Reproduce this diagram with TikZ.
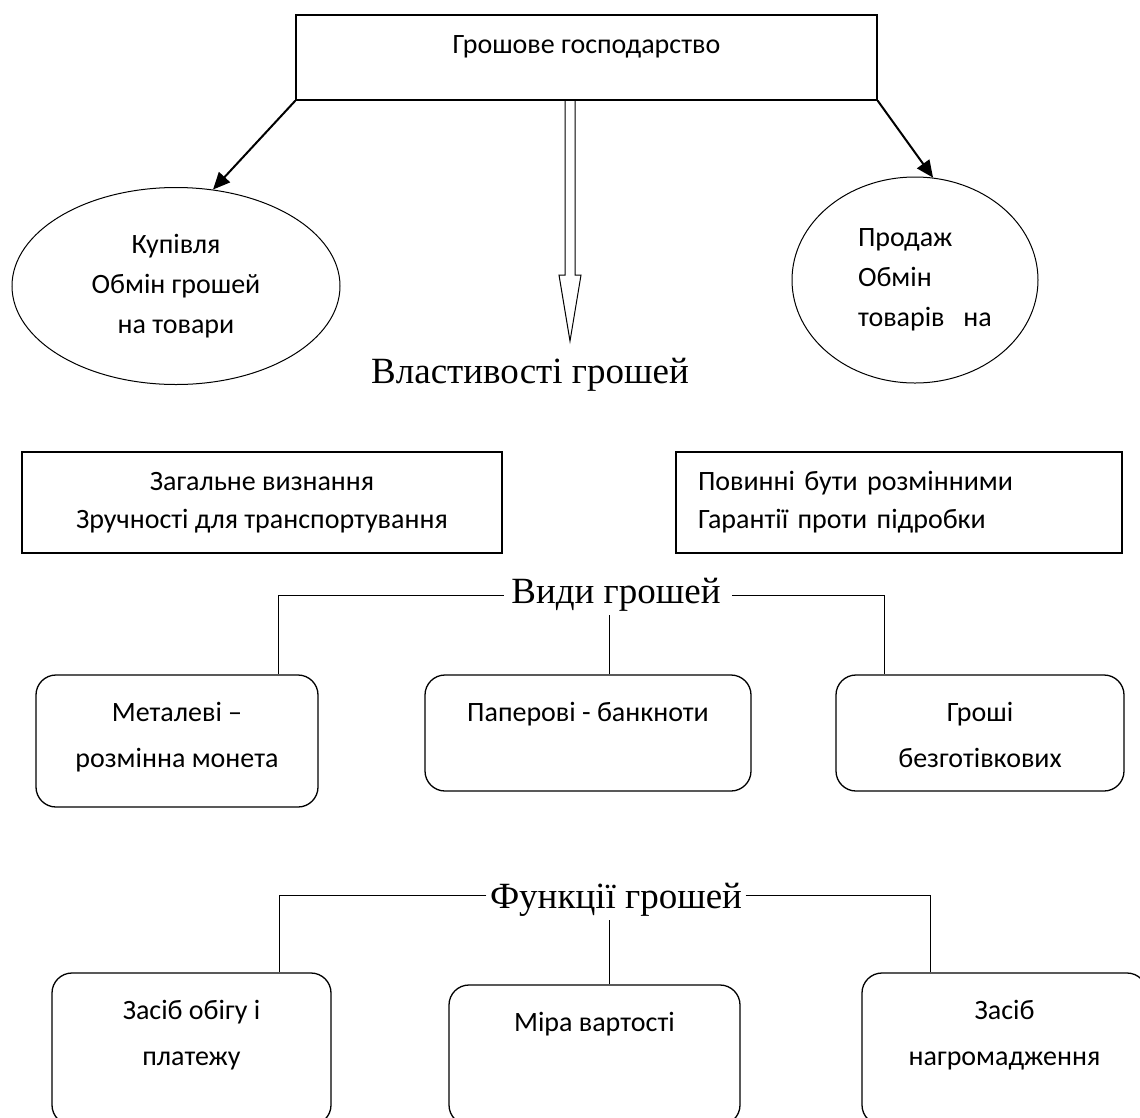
\documentclass[tikz,border=0pt]{standalone}
\usepackage{fontspec}
\setmainfont{Carlito}
\newfontfamily\headfont{Liberation Serif}
\usepackage{tikz}
\usetikzlibrary{positioning,calc,shapes.geometric,arrows.meta}

\begin{document}
\begin{tikzpicture}[
  x=1pt, y=-1pt,
  font=\fontsize{28}{40}\selectfont,
  topbox/.style={draw, line width=1.3pt, minimum width=581pt, minimum height=85pt},
  oval/.style={draw, ellipse, line width=1pt, inner sep=0pt},
  propbox/.style={draw, line width=1.3pt, minimum height=101pt, font=\fontsize{28}{38}\selectfont},
  kindbox/.style={draw, rounded corners=20pt, line width=1.3pt},
  boxtext/.style={anchor=north, yshift=-28pt, inner sep=0pt, align=center, font=\fontsize{28}{46}\selectfont},
  head/.style={font=\headfont\fontsize{37}{44}\selectfont},
  link/.style={line width=1pt},
  arrow/.style={-{Triangle[length=17pt,width=15pt]}, line width=2pt}
]
\useasboundingbox (0,0) rectangle (1140,1117);
\clip (0,0) rectangle (1140,1117);

% Top box
\node[topbox, label={[boxtext, yshift=7pt]north:Грошове господарство}] (money) at (586.5,57.5) {};

% Buying and selling
\node[oval, minimum width=328pt, minimum height=197pt, align=center] (buy) at (176,286)
  {Купівля\\Обмін грошей\\на товари};
\node[oval, minimum width=246pt, minimum height=206pt, text width=114pt, align=left] (sell) at (915,280)
  {Продаж\\Обмін\\\mbox{товарів\ \ на}};

\draw[arrow] (money.south west) -- (buy.69);
\draw[arrow] (money.south east) -- (sell.80);

% Hollow arrow down to the properties
\node[head] (props) at (530,375) {Властивості грошей};
\coordinate (tip) at (570,341);
\draw[link, line join=miter] ($(tip)+(-5,-241)$) -- ($(tip)+(-5,-66)$) -- ($(tip)+(-11,-66)$) -- (tip)
  -- ($(tip)+(11,-66)$) -- ($(tip)+(5,-66)$) -- ($(tip)+(5,-241)$);

\node[propbox, minimum width=480pt, align=center] (general) at (262,502.5)
  {Загальне визнання\\Зручності для транспортування};
\node[propbox, minimum width=446pt, text width=402pt, align=left] (change) at (899,502.5)
  {Повинні бути розмінними\\Гарантії проти підробки};

% Kinds of money
\node[head] (kinds) at (616,595) {Види грошей};
\node[kindbox, minimum width=282pt, minimum height=132pt,
  label={[boxtext]north:Металеві –\\розмінна монета}] (metal) at (177,741) {};
\node[kindbox, minimum width=326pt, minimum height=116pt,
  label={[boxtext]north:Паперові - банкноти}] (paper) at (588,733) {};
\node[kindbox, minimum width=288pt, minimum height=116pt,
  label={[boxtext]north:Гроші\\безготівкових}] (cash) at (980,733) {};

\draw[link] ([xshift=-4pt]kinds.west) -| ($(metal.north)+(101,0)$);
\draw[link] ([xshift=-7pt]kinds.south) -- ([xshift=-7pt]kinds.south |- paper.north);
\draw[link] ([xshift=8pt]kinds.east) -| ($(cash.north)+(-96,0)$);

% Functions of money
\node[head] (funcs) at (616,900) {Функції грошей};
\node[kindbox, minimum width=279pt, minimum height=152pt,
  label={[boxtext]north:Засіб обігу і\\платежу}] (circ) at (191.5,1049) {};
\node[kindbox, minimum width=291pt, minimum height=140pt,
  label={[boxtext]north:Міра вартості}] (measure) at (594.5,1055) {};
\node[kindbox, minimum width=285pt, minimum height=152pt,
  label={[boxtext]north:Засіб\\нагромадження}] (hoard) at (1004.5,1049) {};

\draw[link] ([yshift=5pt]funcs.west) -| ($(circ.north)+(87.5,0)$);
\draw[link] ([xshift=-7pt]funcs.south) -- ([xshift=-7pt]funcs.south |- measure.north);
\draw[link] ([yshift=5pt]funcs.east) -| ($(hoard.north)+(-74.5,0)$);

\end{tikzpicture}
\end{document}
